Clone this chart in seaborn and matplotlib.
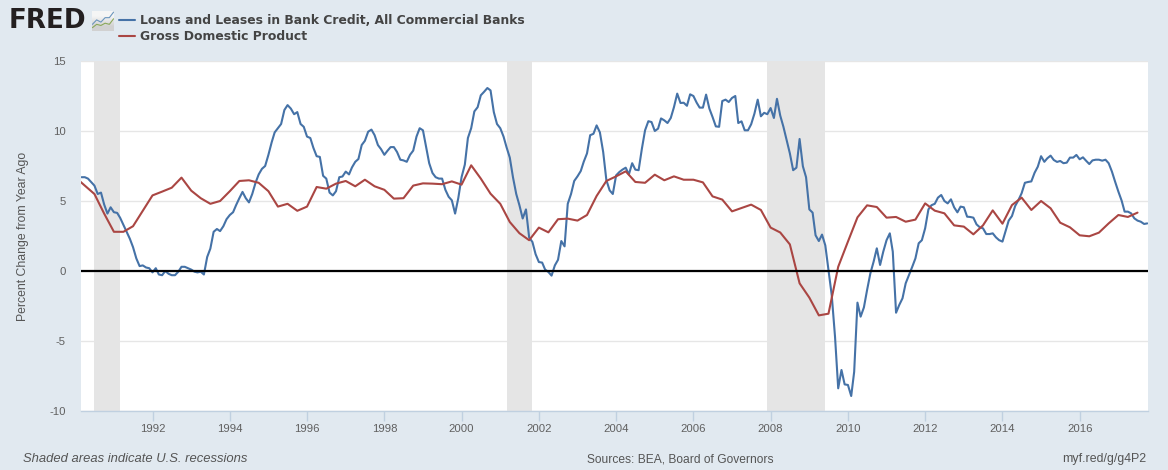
import numpy as np
import pandas as pd
import seaborn as sns
import matplotlib.pyplot as plt
import matplotlib.dates as mdates

# monthly, Mar 1990 - Oct 2017
loans = [6.7, 6.7, 6.6, 6.35, 6.1, 5.5, 5.6, 4.75, 4.1, 4.55,
	4.2, 4.15, 3.8, 3.3, 2.8, 2.3, 1.7, 0.9, 0.35, 0.4, 0.25, 0.2,
	-0.1, 0.2, -0.25, -0.3, 0.0, -0.2, -0.3, -0.3, -0.05, 0.3, 0.3, 0.2,
	0.1, -0.05, -0.1, -0.05, -0.25, 1.0, 1.6, 2.8, 3.0, 2.85, 3.2, 3.7,
	4.0, 4.2, 4.7, 5.2, 5.65, 5.2, 4.9, 5.5, 6.3, 6.9, 7.3, 7.5,
	8.3, 9.2, 9.9, 10.2, 10.5, 11.5, 11.85, 11.6, 11.2, 11.35, 10.5, 10.3,
	9.6, 9.5, 8.8, 8.2, 8.15, 6.8, 6.6, 5.6, 5.4, 5.7, 6.7, 6.75,
	7.1, 6.9, 7.4, 7.8, 8.0, 9.0, 9.3, 9.95, 10.1, 9.7, 9.0, 8.7,
	8.3, 8.6, 8.85, 8.85, 8.5, 7.95, 7.9, 7.8, 8.3, 8.6, 9.6, 10.2,
	10.05, 8.8, 7.7, 7.0, 6.7, 6.6, 6.6, 5.8, 5.3, 5.05, 4.1, 5.2,
	6.7, 7.6, 9.5, 10.2, 11.4, 11.7, 12.55, 12.8, 13.07, 12.9, 11.35, 10.5,
	10.2, 9.6, 8.85, 8.1, 6.7, 5.5, 4.7, 3.75, 4.4, 2.4, 2.07, 1.2,
	0.64, 0.6, 0.1, -0.07, -0.33, 0.4, 0.8, 2.14, 1.76, 4.8, 5.5, 6.43,
	6.76, 7.14, 7.8, 8.4, 9.7, 9.8, 10.4, 9.9, 8.5, 6.5, 5.76, 5.5,
	6.83, 7.07, 7.24, 7.38, 6.9, 7.7, 7.24, 7.2, 8.74, 10.05, 10.7, 10.64,
	10.0, 10.17, 10.9, 10.76, 10.57, 10.93, 11.7, 12.67, 12.0, 12.02, 11.8, 12.62,
	12.5, 12.02, 11.67, 11.67, 12.6, 11.6, 11.0, 10.33, 10.3, 12.14, 12.24, 12.07,
	12.36, 12.5, 10.57, 10.69, 10.05, 10.05, 10.48, 11.24, 12.24, 11.05, 11.3, 11.2,
	11.64, 10.93, 12.3, 11.1, 10.3, 9.33, 8.4, 7.2, 7.38, 9.43, 7.48, 6.7,
	4.4, 4.17, 2.55, 2.14, 2.6, 1.83, 0.05, -1.74,
	-4.7, -8.38, -7.07, -8.1, -8.14, -8.93, -7.2, -2.26, -3.26, -2.6, -1.36, -0.17,
	0.67, 1.62, 0.43, 1.38, 2.2, 2.69, 1.38, -2.98, -2.43, -1.95, -0.88, -0.29,
	0.3, 0.9, 1.98, 2.2, 3.05, 4.4, 4.7, 4.8, 5.24, 5.43, 5.0, 4.83,
	5.12, 4.55, 4.19, 4.6, 4.55, 3.88, 3.86, 3.81, 3.33, 3.12, 3.05, 2.64,
	2.64, 2.69, 2.4, 2.2, 2.1, 2.88, 3.6, 3.93, 4.64, 5.07, 5.55, 6.3,
	6.36, 6.4, 7.02, 7.45, 8.2, 7.8, 8.05, 8.24, 7.93, 7.79, 7.86, 7.7,
	7.74, 8.1, 8.1, 8.29, 7.98, 8.12, 7.88, 7.64, 7.9, 7.95, 7.95, 7.88,
	7.95, 7.7, 7.1, 6.38, 5.67, 5.02, 4.24, 4.24, 4.12, 3.76, 3.6, 3.52,
	3.36, 3.4]

# quarterly, 1990Q1 - 2017Q3
gdp = [6.7, 6.1, 5.5, 4.1, 2.8, 2.8, 3.2, 4.3, 5.4, 5.67, 5.95, 6.67,
	5.74, 5.2, 4.8, 5.0, 5.7, 6.43, 6.48, 6.3, 5.7, 4.6, 4.8, 4.3,
	4.6, 6.0, 5.88, 6.24, 6.43, 6.05, 6.52, 6.05, 5.8, 5.17, 5.2, 6.1,
	6.26, 6.24, 6.2, 6.4, 6.17, 7.55, 6.6, 5.52, 4.8, 3.5, 2.7, 2.2,
	3.1, 2.76, 3.7, 3.74, 3.6, 4.0, 5.36, 6.43, 6.76, 7.12, 6.36, 6.3,
	6.88, 6.48, 6.76, 6.52, 6.52, 6.33, 5.33, 5.1, 4.26, 4.5, 4.74, 4.36,
	3.1, 2.75, 1.9, -0.88, -1.9, -3.17, -3.05, 0.3, 2.1, 3.83, 4.69, 4.57,
	3.81, 3.86, 3.52, 3.67, 4.83, 4.31, 4.12, 3.26, 3.17, 2.62, 3.26, 4.33,
	3.38, 4.71, 5.24, 4.36, 5.0, 4.48, 3.45, 3.12, 2.55, 2.48, 2.74, 3.4,
	4.0, 3.86, 4.17]

recessions = [("1990-07-01", "1991-03-01"), ("2001-03-01", "2001-11-01"), ("2007-12-01", "2009-06-01")]
yticks = [-10, -5, 0, 5, 10, 15]

loans_name = "Loans and Leases in Bank Credit, All Commercial Banks"
gdp_name = "Gross Domestic Product"
ylab = "Percent Change from Year Ago"

bg = "#e1e9f0"
blue = "#4572a7"
red = "#aa4643"
W, H = 1168, 470

sns.set_theme(style="white")
plt.rcParams['font.family'] = ['Liberation Sans', 'DejaVu Sans']
plt.rcParams['axes.unicode_minus'] = False

loans_df = pd.DataFrame({"date": pd.date_range("1990-03-01", periods=len(loans), freq="MS"), "value": loans})
gdp_df = pd.DataFrame({"date": pd.date_range("1990-01-01", periods=len(gdp), freq="QS"), "value": gdp})

fig = plt.figure(figsize=(W/100, H/100), dpi=100, facecolor=bg)
ax = fig.add_axes([81/W, (H-411)/H, 1067/W, 350/H])

for start, end in recessions:
	ax.axvspan(pd.Timestamp(start), pd.Timestamp(end), color="#e5e5e5", lw=0, zorder=1)

sns.lineplot(data=loans_df, x="date", y="value", color=blue, lw=1.5, ax=ax, zorder=3)
sns.lineplot(data=gdp_df, x="date", y="value", color=red, lw=1.5, ax=ax, zorder=4)
ax.axhline(0, color="black", lw=1.6, zorder=5)

ax.set_xlim(pd.Timestamp("1990-02-24"), pd.Timestamp("2017-10-08"))
ax.set_ylim(-10, 15)
ax.set_yticks(yticks)
ax.yaxis.grid(True, color="#e6e6e6", lw=1, zorder=0)
ax.set_axisbelow(True)
ax.xaxis.set_major_locator(mdates.YearLocator(2))
ax.xaxis.set_major_formatter(mdates.DateFormatter("%Y"))
ax.tick_params(axis="x", length=7, width=1, color="#c0d0e0", labelsize=8.2, labelcolor="#606060", pad=2, bottom=True)
ax.tick_params(axis="y", length=0, labelsize=8.2, labelcolor="#606060", pad=11)
ax.set_xlabel("")
ax.set_ylabel("")
for s in ["top", "right", "left"]:
	ax.spines[s].set_visible(False)
ax.spines["bottom"].set_color("#c0d0e0")
ax.spines["bottom"].set_linewidth(1)

# labels in figure pixels
def put(x, y, s, **kw):
	return fig.text(x/W, 1-y/H, s, va="center", **kw)

put(23, 236, ylab, rotation=90, ha="center", fontsize=8.8, color="#555555")
put(23, 459, "Shaded areas indicate U.S. recessions", ha="left", style="italic", fontsize=9.4, color="#555555")
put(587, 459, "Sources: BEA, Board of Governors", ha="left", fontsize=8.65, color="#555555")
put(1146, 459, "myf.red/g/g4P2", ha="right", fontsize=8.9, color="#555555")

# legend
for y, col, name in [(20, blue, loans_name), (36, red, gdp_name)]:
	fig.add_artist(plt.Line2D([119/W, 135/W], [1-y/H, 1-y/H], color=col, lw=1.5))
	put(140, y, name, ha="left", fontsize=8.95, fontweight="bold", color="#444444", family="DejaVu Sans")

# FRED logo
put(9, 21, "FRED", ha="left", fontsize=18.8, fontweight="bold", color="#231f20", family="DejaVu Sans")
icon = fig.add_axes([92/W, 1-31/H, 22/W, 20/H])
icon.imshow([[0.96], [0.82]], cmap="gray", vmin=0, vmax=1, aspect="auto", interpolation="bilinear", extent=[-0.1, 5.1, 0, 9])
icon.plot([0, 1, 2, 3, 4, 5], [3, 5, 4, 6, 6, 8.5], color="#6a95bd", lw=0.8)
icon.plot([0, 1, 2, 3, 4, 5], [1.5, 3, 2.5, 3.5, 3, 5.5], color="#8aa85a", lw=0.8)
icon.set_xlim(-0.1, 5.1)
icon.set_ylim(0, 9)
icon.set_xticks([])
icon.set_yticks([])
for s in icon.spines.values():
	s.set_visible(False)

fig.savefig("out.png", dpi=100, facecolor=bg)
